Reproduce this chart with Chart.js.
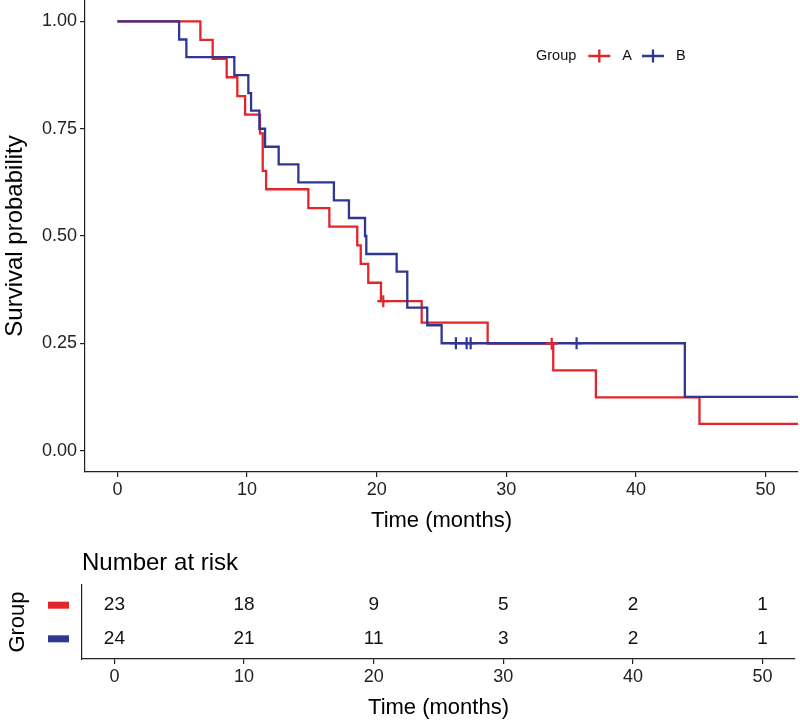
<!DOCTYPE html>
<html>
<head>
<meta charset="utf-8">
<title>Survival by group</title>
<script src="https://cdn.jsdelivr.net/npm/chart.js@4.4.1/dist/chart.umd.min.js"></script>
<style>
  body { margin: 0; background: #fff; overflow: hidden; }
  #wrap { position: relative; width: 800px; height: 722px; overflow: hidden; }
  canvas { position: absolute; }
  /* the km canvas is 10px bigger on each side so point overflow padding stays off-page */
  #km { top: -10px; left: -10px; }
  #risk { top: 540px; left: 0; }
</style>
</head>
<body>
<div id="wrap">
  <canvas id="km" width="818" height="560"></canvas>
  <canvas id="risk" width="800" height="182"></canvas>
</div>
<script>
// groups
const groups = ['A', 'B'];
const groupColors = ['#E2252B', '#2E3792'];

// Kaplan-Meier steps: time of each drop (months) and survival after it
const timesA = [0, 6.4, 7.35, 8.43, 9.25, 9.85, 11.0, 11.21, 11.47, 14.73, 16.35, 18.5, 18.77, 19.35, 20.33, 23.47, 28.56, 33.62, 36.91, 44.9];
const survA = [1, 0.957, 0.913, 0.870, 0.826, 0.783, 0.739, 0.652, 0.609, 0.565, 0.522, 0.478, 0.435, 0.391, 0.348, 0.298, 0.249, 0.187, 0.124, 0.062];
const censorA = [20.51, 33.5];

const timesB = [0, 4.76, 5.32, 9.02, 10.1, 10.31, 10.95, 11.39, 12.44, 13.96, 16.7, 17.86, 19.1, 19.2, 21.54, 22.36, 23.9, 25.01, 43.77];
const survB = [1, 0.958, 0.917, 0.875, 0.833, 0.792, 0.75, 0.708, 0.667, 0.625, 0.583, 0.542, 0.5, 0.458, 0.417, 0.333, 0.292, 0.25, 0.125];
const censorB = [26.11, 26.94, 27.25, 35.42];

// number at risk
const riskTimes = [0, 10, 20, 30, 40, 50];
const riskA = [23, 18, 9, 5, 2, 1];
const riskB = [24, 21, 11, 3, 2, 1];
const groupRows = [2, 1];

// axes
const xTicks = [0, 10, 20, 30, 40, 50];
const yTicks = [0, 0.25, 0.5, 0.75, 1];
const xMin = -2.5, xMax = 52.5;

const FONT = "'Liberation Sans', Arial, sans-serif";
Chart.defaults.font.family = FONT;
Chart.defaults.color = '#222';

function stepPoints(times, surv) {
  const pts = times.map((t, i) => ({ x: t, y: surv[i] }));
  pts.push({ x: xMax, y: surv[surv.length - 1] }); // curve runs to the edge
  return pts;
}

function survAt(times, surv, t) {
  let s = surv[0];
  for (let i = 0; i < times.length; i++) {
    if (times[i] <= t) s = surv[i];
  }
  return s;
}

function censorPoints(cens, times, surv) {
  return cens.map(t => ({ x: t, y: survAt(times, surv, t) }));
}

function lineSet(label, pts, color, order) {
  return {
    label: label,
    data: pts,
    borderColor: color,
    borderWidth: 2.3,
    stepped: true,
    pointRadius: 0,
    fill: false,
    order: order
  };
}

function censorSet(label, pts, color) {
  return {
    label: label,
    data: pts,
    showLine: false,
    pointStyle: 'cross',
    pointRadius: 6,
    pointBorderWidth: 2.2,
    pointBorderColor: color,
    borderColor: color,
    order: 0
  };
}

const axisLine = { display: true, color: '#222', width: 1.2 };
const tickMarks = { display: true, drawOnChartArea: false, drawTicks: true, tickLength: 5, color: '#222', lineWidth: 1.2 };

// keep the plot area exactly where the axes say, no extra label padding
function fixX(h) {
  return s => { s.height = h; s.paddingLeft = 0; s.paddingRight = 0; };
}
function fixY(w) {
  return s => { s.width = w; s.paddingTop = 0; s.paddingBottom = 0; };
}

// legend inside the plot: "Group  -+- A  -+- B"
const kmLegend = {
  id: 'kmLegend',
  afterDraw(chart) {
    const ctx = chart.ctx;
    const area = chart.chartArea;
    const y = area.top + 56;
    let x = area.left + 451;
    ctx.save();
    ctx.font = '14.5px ' + FONT;
    ctx.fillStyle = '#111';
    ctx.textBaseline = 'middle';
    ctx.textAlign = 'left';
    ctx.fillText('Group', x, y);
    x += ctx.measureText('Group').width + 12;
    groups.forEach((g, i) => {
      ctx.strokeStyle = groupColors[i];
      ctx.lineWidth = 2.3;
      ctx.beginPath();
      ctx.moveTo(x, y);
      ctx.lineTo(x + 22, y);
      ctx.moveTo(x + 11, y - 6.5);
      ctx.lineTo(x + 11, y + 6.5);
      ctx.stroke();
      x += 34;
      ctx.fillText(g, x, y);
      x += ctx.measureText(g).width + 10;
    });
    ctx.restore();
  }
};

new Chart(document.getElementById('km'), {
  type: 'line',
  data: {
    datasets: [
      lineSet('A', stepPoints(timesA, survA), groupColors[0], 2),
      lineSet('B', stepPoints(timesB, survB), groupColors[1], 1),
      censorSet('A censored', censorPoints(censorA, timesA, survA), groupColors[0]),
      censorSet('B censored', censorPoints(censorB, timesB, survB), groupColors[1])
    ]
  },
  options: {
    responsive: false,
    animation: false,
    devicePixelRatio: 1,
    layout: { padding: 10 },
    plugins: { legend: { display: false }, tooltip: { enabled: false } },
    scales: {
      x: {
        type: 'linear',
        min: xMin,
        max: xMax,
        afterBuildTicks: s => { s.ticks = xTicks.map(v => ({ value: v })); },
        afterFit: fixX(68),
        grid: tickMarks,
        border: axisLine,
        ticks: { font: { size: 18 }, padding: 2, color: '#222' },
        title: { display: true, text: 'Time (months)', font: { size: 22 }, color: '#000', padding: { top: 0, bottom: 6 } }
      },
      y: {
        type: 'linear',
        min: -0.05,
        max: 1.05,
        afterBuildTicks: s => { s.ticks = yTicks.map(v => ({ value: v })); },
        afterFit: fixY(85),
        grid: tickMarks,
        border: axisLine,
        ticks: { font: { size: 18 }, padding: 3, color: '#222', callback: v => v.toFixed(2) },
        title: { display: true, text: 'Survival probability', font: { size: 24 }, color: '#000', padding: { top: 1, bottom: 0 } }
      }
    }
  },
  plugins: [kmLegend]
});

// risk table: counts placed with the chart's own scales
const riskText = {
  id: 'riskText',
  afterDraw(chart) {
    const { ctx, chartArea } = chart;
    const x = chart.scales.x, y = chart.scales.y;
    ctx.save();
    ctx.textBaseline = 'middle';
    ctx.textAlign = 'left';
    ctx.fillStyle = '#000';
    ctx.font = '24px ' + FONT;
    ctx.fillText('Number at risk', chartArea.left, 23);
    ctx.font = '19px ' + FONT;
    ctx.textAlign = 'center';
    [riskA, riskB].forEach((counts, g) => {
      const py = y.getPixelForValue(groupRows[g]);
      ctx.fillStyle = groupColors[g];
      ctx.fillRect(48, py - 3.5, 21, 7);
      ctx.fillStyle = '#111';
      counts.forEach((n, i) => ctx.fillText(String(n), x.getPixelForValue(riskTimes[i]), py));
    });
    ctx.restore();
  }
};

new Chart(document.getElementById('risk'), {
  type: 'scatter',
  data: { datasets: [] },
  options: {
    responsive: false,
    animation: false,
    devicePixelRatio: 1,
    layout: { padding: { top: 45, right: 5, bottom: 0, left: 0 } },
    plugins: { legend: { display: false }, tooltip: { enabled: false } },
    scales: {
      x: {
        type: 'linear',
        min: xMin,
        max: xMax,
        afterBuildTicks: s => { s.ticks = xTicks.map(v => ({ value: v })); },
        afterFit: fixX(63),
        grid: tickMarks,
        border: axisLine,
        ticks: { font: { size: 18 }, padding: 2, color: '#222' },
        title: { display: true, text: 'Time (months)', font: { size: 22 }, color: '#000', padding: { top: 0, bottom: 1 } }
      },
      y: {
        type: 'linear',
        min: 0.4,
        max: 2.6,
        afterFit: fixY(82),
        grid: { display: false },
        border: axisLine,
        ticks: { display: false },
        title: { display: true, text: 'Group', font: { size: 22 }, color: '#000', padding: { top: 5, bottom: 0 } }
      }
    }
  },
  plugins: [riskText]
});
</script>
</body>
</html>
